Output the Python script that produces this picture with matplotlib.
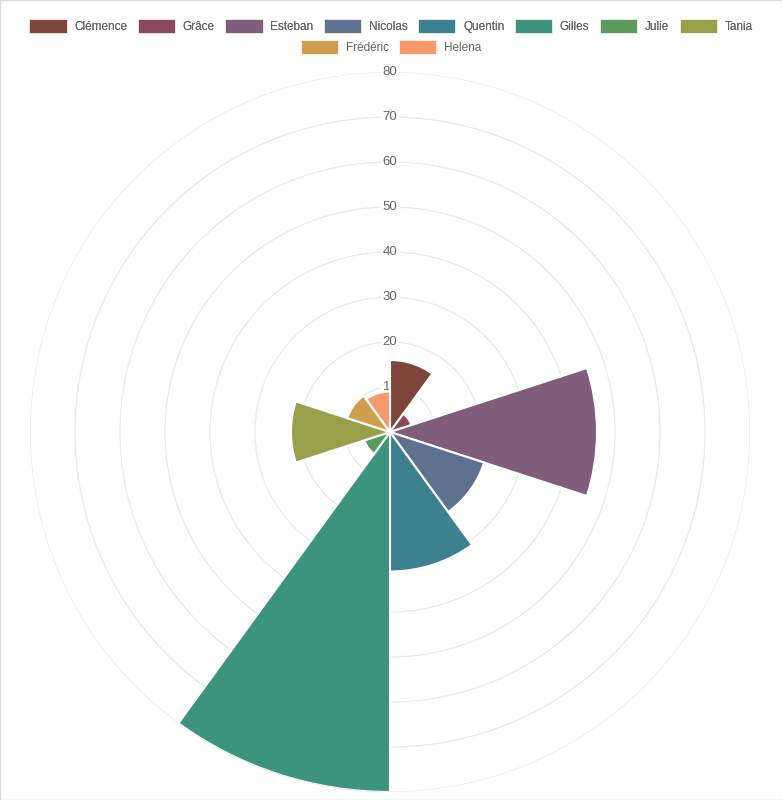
import numpy as np
import matplotlib.pyplot as plt
from matplotlib.patches import Rectangle

plt.rcParams["font.family"] = ["Liberation Sans", "DejaVu Sans"]

names = ["Clémence", "Grâce", "Esteban", "Nicolas", "Quentin",
         "Gilles", "Julie", "Tania", "Frédéric", "Helena"]
values = [16, 5, 46, 22, 31, 80, 6, 22, 10, 9]
colors = ["#7e4539", "#8a4a5c", "#7f5e7c", "#60718f", "#3b8190",
          "#3c947f", "#5b9a5e", "#9aa04a", "#cf9e4c", "#f9976d"]
ring_ticks = [10, 20, 30, 40, 50, 60, 70, 80]

W, H = 782, 800
fig = plt.figure(figsize=(W / 100, H / 100), dpi=100)

# center (390, 432) px, radius 360 px
cx, cy, R = 390, 432, 360
ax = fig.add_axes([(cx - R) / W, (H - cy - R) / H, 2 * R / W, 2 * R / H],
                  projection="polar")
ax.set_theta_zero_location("N")
ax.set_theta_direction(-1)
ax.set_ylim(0, 80)
ax.set_xticks([])
ax.set_yticks(ring_ticks)
ax.set_yticklabels([])
ax.grid(True, color="#e8e8e8", linewidth=0.9)
ax.spines["polar"].set_visible(False)
ax.set_facecolor("none")

n = len(values)
width = 2 * np.pi / n
theta = np.arange(n) * width
ax.bar(theta, values, width=width, align="edge", color=colors,
       edgecolor="white", linewidth=1.5, zorder=3)

for r in ring_ticks:
    ax.text(0, r, str(r), ha="center", va="center", fontsize=9.5,
            color="#666666", zorder=2,
            bbox=dict(facecolor="white", edgecolor="none", pad=1.5))

# legend: two centered rows
handles = [Rectangle((0, 0), 1, 1, facecolor=c, edgecolor="white", linewidth=0.5)
           for c in colors]
common = dict(frameon=False, fontsize=8.5, labelcolor="#666666",
              handlelength=3.15, handleheight=1.4, handletextpad=0.65,
              columnspacing=0.9, borderaxespad=0, borderpad=0)
leg1 = fig.legend(handles[:8], names[:8], ncol=8, loc="center",
                  bbox_to_anchor=(0.5, 1 - 26 / H), **common)
fig.add_artist(leg1)
fig.legend(handles[8:], names[8:], ncol=2, loc="center",
           bbox_to_anchor=(0.5, 1 - 47 / H), **common)

fig.patches.append(Rectangle((0, 0), 1, 1, transform=fig.transFigure,
                             fill=False, edgecolor="#dddddd", linewidth=1))

fig.savefig("out.png", dpi=100)
